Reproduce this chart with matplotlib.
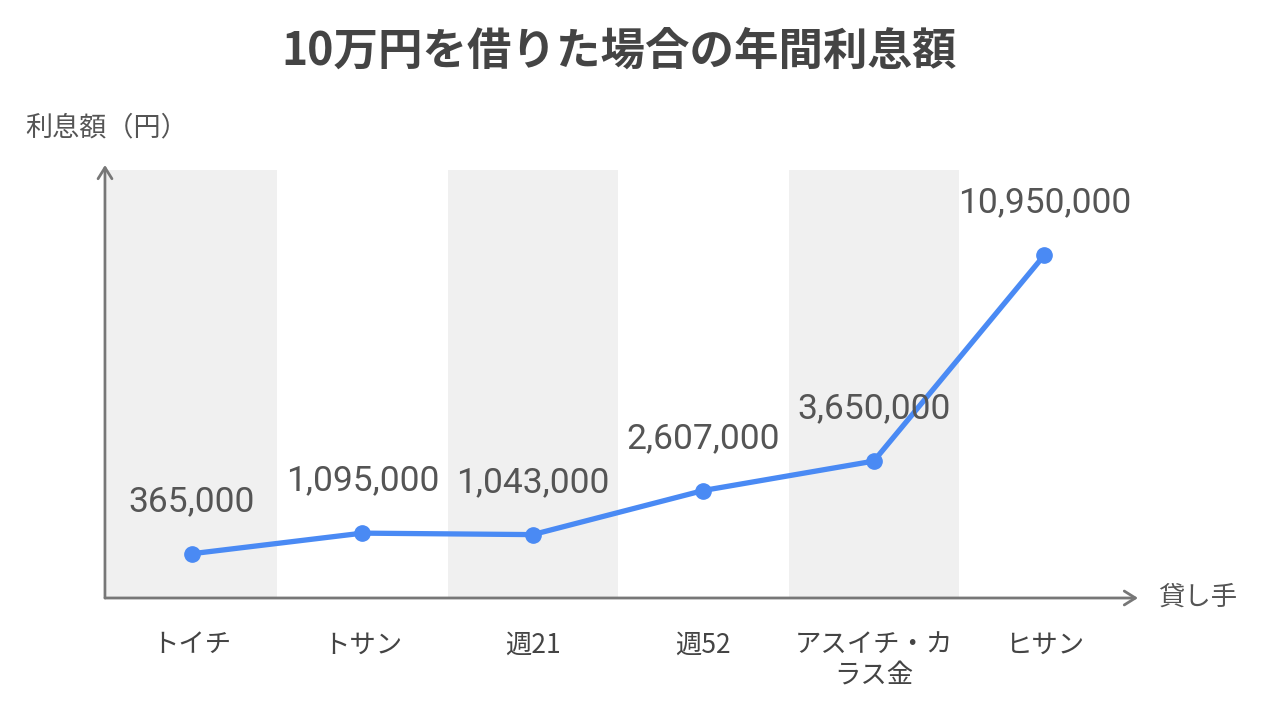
import matplotlib.pyplot as plt

plt.rcParams['font.family'] = ['Noto Sans CJK JP', 'DejaVu Sans']

lenders = ['トイチ', 'トサン', '週21', '週52', 'アスイチ・カ\nラス金', 'ヒサン']
interest = [365000, 1095000, 1043000, 2607000, 3650000, 10950000]

W, H = 1280, 711
fig = plt.figure(figsize=(12.8, 7.11), dpi=100)
# axes box in pixels: x 105..1138, y 165..598
ax = fig.add_axes([105 / W, 1 - 598 / H, (1138 - 105) / W, (598 - 165) / H])
x = list(range(len(lenders)))
ax.set_xlim(-0.51, 5.55)
ax.set_ylim(-1205000, 14150000)

# alternating grey bands
for i in range(0, len(lenders), 2):
    ax.axvspan(i - 0.5, i + 0.5, ymin=0, ymax=428 / 433, color='#f0f0f0', lw=0, zorder=0)

ax.plot(x, interest, color='#4a8af4', lw=3.8, marker='o', ms=11,
        solid_capstyle='round', zorder=3)
for xi, v in zip(x, interest):
    ax.annotate(f'{v:,}', (xi, v), xytext=(0, 37.5), textcoords='offset points',
                ha='center', va='center', fontsize=25.5, color='#555555',
                family=['Roboto', 'Noto Sans CJK JP'])

ax.set_xticks(x, lenders, fontsize=19, color='#444444')
ax.tick_params(axis='x', length=0, pad=24)
ax.set_yticks([])
for s in ax.spines.values():
    s.set_visible(False)

# axes with arrow heads
arr = dict(arrowstyle='->,head_length=0.8,head_width=0.5', color='#777777', lw=2,
           shrinkA=0, shrinkB=0)
ax.annotate('', xy=(0, 1), xytext=(0, 0), xycoords='axes fraction', arrowprops=arr)
ax.annotate('', xy=(1, 0), xytext=(0, 0), xycoords='axes fraction', arrowprops=arr)

fig.text(619 / W, 1 - 52 / H, '10万円を借りた場合の年間利息額', fontsize=32,
         fontweight='bold', color='#444444', ha='center', va='center')
fig.text(25 / W, 1 - 128 / H, '利息額（円）', fontsize=19.5, color='#555555',
         ha='left', va='center')
fig.text(1158 / W, 1 - 597 / H, '貸し手', fontsize=19, color='#555555',
         ha='left', va='center')

fig.savefig('out.png', dpi=100, facecolor='white')
